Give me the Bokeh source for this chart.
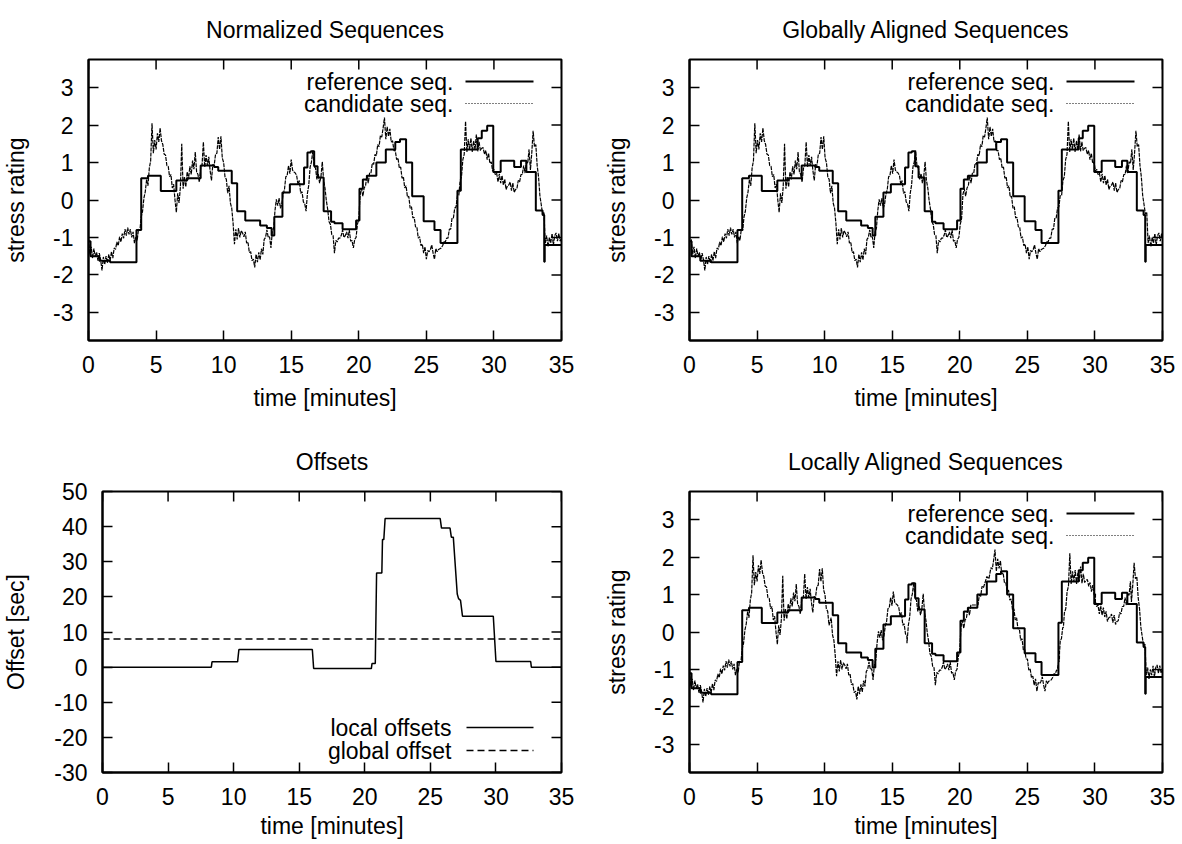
import math
import numpy as np
from bokeh.plotting import figure
from bokeh.models import Range1d, FixedTicker, Label, Arrow
from bokeh.layouts import column, row
from bokeh.embed import file_html
from bokeh.resources import INLINE

FONT = "Liberation Sans"
FS = "23px"

# ---------------- data ----------------
x_ticks = [0, 5, 10, 15, 20, 25, 30, 35]
stress_ticks = [-3, -2, -1, 0, 1, 2, 3]
offset_ticks = [-30, -20, -10, 0, 10, 20, 30, 40, 50]

# reference sequence (step function, value held until next time) [minutes, rating]
ref_t = [0.0, 0.15, 0.8, 1.6, 3.55, 3.9, 4.4, 5.35, 6.5, 7.3, 8.3, 9.3, 9.6, 10.6,
         11.0, 11.6, 12.7, 13.2, 13.55, 13.75, 14.35, 14.9, 15.95, 16.2, 16.45,
         16.7, 16.95, 17.4, 17.95, 18.2, 18.8, 19.8, 20.05, 20.3, 20.6, 21.3, 22.0,
         22.7, 23.05, 23.5, 23.95, 24.8, 25.6, 26.05, 27.3, 27.55, 28.8, 29.1, 29.5,
         29.95, 30.5, 31.5, 32.0, 32.4, 33.1, 33.6, 33.72, 33.76, 35.0]
ref_v = [-1.10, -1.50, -1.62, -1.66, -0.80, 0.58, 0.65, 0.24, 0.52, 0.58, 0.92, 0.88,
         0.78, 0.45, -0.30, -0.55, -0.68, -0.75, -0.95, -0.45, 0.20, 0.42, 0.87, 1.27,
         1.30, 0.90, 0.60, -0.30, -0.58, -0.62, -0.78, -0.55, 0.30, 0.55, 0.65, 1.00,
         1.35, 1.55, 1.62, 1.00, 0.10, -0.57, -0.80, -1.15, 0.25, 1.35, 1.65, 1.85,
         1.98, 0.75, 1.05, 0.88, 1.05, 0.75, -0.28, -0.40, -1.65, -1.20, -1.20]

# candidate sequence, one value every 0.1 minutes (0.0 ... 35.0)
cand_step = 0.1
cand_v = [
    -1.05, -1.45, -1.25, -1.55, -1.30, -1.50, -1.40, -1.62, -1.42, -1.60,
    -1.88, -1.52, -1.72, -1.50, -1.68, -1.45, -1.62, -1.38, -1.55, -1.28,
    -1.32, -1.12, -1.22, -0.98, -1.12, -0.90, -1.02, -0.78, -0.95, -0.74,
    -0.92, -0.78, -1.00, -0.85, -1.15, -0.98, -1.08, -0.78, -0.82, -0.45,
    -0.30, 0.05, 0.22, 0.55, 0.38, 0.85, 1.05, 2.05, 1.25, 1.60,
    1.35, 1.78, 1.55, 1.92, 1.58, 1.48, 1.22, 1.20, 0.92, 0.90,
    0.62, 0.68, 0.32, 0.42, 0.00, -0.33, 0.18, -0.08, 0.35, 1.50,
    0.30, 0.62, 0.35, 0.75, 0.55, 0.90, 0.68, 1.05, 0.82, 1.28,
    0.75, 0.68, 0.48, 0.85, 0.92, 1.55, 0.88, 1.20, 0.92, 1.15,
    0.78, 0.52, 0.95, 0.92, 1.22, 1.25, 1.68, 1.35, 1.70, 1.12,
    1.00, 0.62, 0.55, 0.18, 0.38, -0.08, -0.22, -0.62, -1.18, -0.78,
    -1.05, -0.75, -1.00, -0.82, -0.88, -0.98, -0.85, -1.15, -1.12, -1.40,
    -1.38, -1.62, -1.58, -1.80, -1.45, -1.66, -1.40, -1.60, -1.30, -1.45,
    -1.05, -1.00, -0.80, -1.00, -0.98, -1.28, -0.85, -0.75, -0.28, 0.02,
    -0.15, 0.05, -0.22, -0.12, 0.15, 0.28, 0.62, 0.65, 0.92, 0.70,
    1.08, 0.80, 0.75, 0.72, 0.66, 0.42, 0.52, 0.18, 0.22, -0.05,
    -0.10, -0.30, 0.18, 0.40, 0.88, 1.02, 1.32, 0.90, 0.85, 0.55,
    0.70, 0.45, 0.62, 1.02, 0.52, 0.32, -0.02, -0.25, -0.58, -0.65,
    -0.92, -0.95, -1.42, -1.08, -1.12, -1.02, -1.02, -0.95, -0.80, -1.00,
    -0.95, -0.85, -1.02, -0.80, -1.10, -1.08, -1.28, -1.05, -1.00, -0.65,
    -0.50, 0.15, 0.30, 0.10, 0.32, 0.38, 0.66, 0.45, 0.72, 0.72,
    0.98, 0.95, 1.22, 1.18, 1.48, 1.42, 1.72, 1.68, 1.92, 2.20,
    1.62, 1.95, 1.70, 1.90, 1.55, 1.58, 1.32, 1.32, 1.08, 1.12,
    0.85, 0.88, 0.58, 0.62, 0.32, 0.38, 0.08, 0.10, -0.22, -0.18,
    -0.48, -0.46, -0.72, -0.72, -1.02, -0.98, -1.22, -1.18, -1.42, -1.25,
    -1.58, -1.35, -1.38, -1.32, -1.20, -1.42, -1.58, -1.30, -1.38, -1.32,
    -1.30, -1.28, -1.22, -1.12, -1.12, -1.02, -1.02, -0.78, -0.78, -0.48,
    -0.48, -0.22, -0.18, 0.12, 0.12, 0.52, 0.62, 1.08, 1.22, 2.10,
    1.28, 1.62, 1.35, 1.65, 1.28, 1.58, 1.35, 1.75, 1.30, 1.55,
    1.32, 1.38, 1.40, 1.22, 1.32, 1.08, 1.25, 0.98, 1.02, 0.78,
    0.82, 0.68, 0.72, 0.48, 0.70, 0.45, 0.65, 0.40, 0.55, 0.28,
    0.38, 0.40, 0.48, 0.25, 0.45, 0.20, 0.28, 0.30, 0.52, 0.48,
    0.68, 0.68, 0.92, 0.72, 1.02, 0.98, 1.35, 0.80, 1.25, 1.85,
    1.42, 1.48, 0.92, 0.62, 0.12, -0.12, -0.38, -0.32, -1.15, -0.95,
    -1.25, -1.00, -1.15, -0.90, -1.20, -0.95, -0.88, -1.10, -0.90, -1.10,
    -1.00]
cand_t = [round(i * cand_step, 1) for i in range(len(cand_v))]

# local offsets [sec] over time [minutes]
off_t = [0.0, 8.3, 8.35, 10.3, 10.4, 16.0, 16.1, 20.5, 20.55, 20.8, 20.9, 21.3, 21.35,
         21.45, 21.55, 25.75, 25.85, 26.5, 26.6, 26.75, 27.05, 27.15, 27.3, 27.45,
         29.8, 30.0, 32.65, 32.7, 35.0]
off_v = [0.0, 0.0, 1.5, 1.5, 5.0, 5.0, -0.4, -0.4, 1.0, 1.0, 26.8, 26.8, 36.3,
         36.3, 42.3, 42.3, 39.6, 39.6, 37.0, 37.0, 20.8, 19.5, 19.0, 14.5,
         14.5, 1.6, 1.6, 0.0, 0.0]
global_offset = 8.0

# aligned candidates (shifted by the offsets, seconds -> minutes)
ct = np.array(cand_t)
cand_t_global = ct + global_offset / 60.0
cand_t_local = ct + np.interp(ct, off_t, off_v) / 60.0

FRAME_H = 281


def base_fig(title, ylabel, yr, yticks, left, fw, right, top, bottom,
             ylab_standoff, xlab_standoff):
    p = figure(frame_width=fw, frame_height=FRAME_H,
               x_range=Range1d(x_ticks[0], x_ticks[-1]), y_range=Range1d(*yr),
               output_backend="svg", toolbar_location=None,
               min_border_left=left, min_border_right=right,
               min_border_top=top, min_border_bottom=bottom,
               title=title)
    p.title.text_font = FONT
    p.title.text_font_size = FS
    p.title.text_font_style = "normal"
    p.title.text_color = "black"
    p.title.align = "center"
    p.title.vertical_align = "top"
    p.title.standoff = 29
    p.xgrid.visible = False
    p.ygrid.visible = False
    p.outline_line_color = "black"
    p.outline_line_width = 2
    p.background_fill_color = "white"
    p.border_fill_color = "white"

    xax = p.below[0]
    yax = p.left[0]
    for ax, ticks in ((xax, x_ticks), (yax, yticks)):
        ax.ticker = FixedTicker(ticks=ticks)
        ax.major_label_overrides = {t: str(t) for t in ticks}
        ax.major_tick_in = 10
        ax.major_tick_out = 0
        ax.major_tick_line_width = 1.5
        ax.minor_tick_line_color = None
        ax.axis_line_width = 2
        ax.major_label_text_font = FONT
        ax.major_label_text_font_size = FS
        ax.major_label_text_color = "black"
        ax.axis_label_text_font = FONT
        ax.axis_label_text_font_size = FS
        ax.axis_label_text_font_style = "normal"
        ax.axis_label_text_color = "black"
    xax.axis_label = "time [minutes]"
    xax.major_label_standoff = 15
    xax.axis_label_standoff = xlab_standoff
    yax.axis_label = ylabel
    yax.major_label_standoff = 15
    yax.axis_label_standoff = ylab_standoff

    # mirrored inward ticks on the top and right borders
    p.ray(x=x_ticks, y=[yr[1]] * len(x_ticks), length=10, length_units="screen",
          angle=-math.pi / 2, line_color="black", line_width=1.5)
    p.ray(x=[x_ticks[-1]] * len(yticks), y=yticks, length=10, length_units="screen",
          angle=math.pi, line_color="black", line_width=1.5)
    return p


def key(p, labels, styles, text_right, x0, x1, ys):
    for lab, (width, dash), y in zip(labels, styles, ys):
        p.add_layout(Label(x=text_right, y=y, x_units="screen", y_units="screen",
                           text=lab, text_align="right", text_baseline="middle",
                           text_font=FONT, text_font_size=FS, text_color="black"))
        p.add_layout(Arrow(end=None, x_start=x0, y_start=y, x_end=x1, y_end=y,
                           start_units="screen", end_units="screen",
                           line_color="black", line_width=width, line_dash=dash))


def seq_fig(title, cand_x, left, right, top, bottom, xlab_standoff):
    p = base_fig(title, "stress rating", (-3.75, 3.75), stress_ticks,
                 left, 473, right, top, bottom, 21, xlab_standoff)
    p.line(list(cand_x), cand_v, line_color="black", line_width=1.2, line_dash="4 1")
    p.step(ref_t, ref_v, mode="after", line_color="black", line_width=2)
    key(p, ["reference seq.", "candidate seq."], [(2, "solid"), (1, "1 2")],
        365, 377, 445, [FRAME_H - 22, FRAME_H - 44])
    return p


p1 = seq_fig("Normalized Sequences", cand_t, 87, 31, 59, 78, 9)
p2 = seq_fig("Globally Aligned Sequences", cand_t_global, 97, 20, 59, 78, 9)
p4 = seq_fig("Locally Aligned Sequences", cand_t_local, 97, 20, 73, 72, 5)

p3 = base_fig("Offsets", "Offset [sec]", (offset_ticks[0], offset_ticks[-1]),
              offset_ticks, 101, 459, 31, 73, 72, 22, 5)
p3.line(off_t, off_v, line_color="black", line_width=1.5)
p3.line([x_ticks[0], x_ticks[-1]], [global_offset, global_offset],
        line_color="black", line_width=1.5, line_dash="7 4")
key(p3, ["local offsets", "global offset"], [(1.5, "solid"), (1.5, "7 4")],
    349, 364, 431, [45, 22])

layout = column(row(p1, p2), row(p3, p4))
open("out.html", "w").write(file_html(layout, INLINE))
